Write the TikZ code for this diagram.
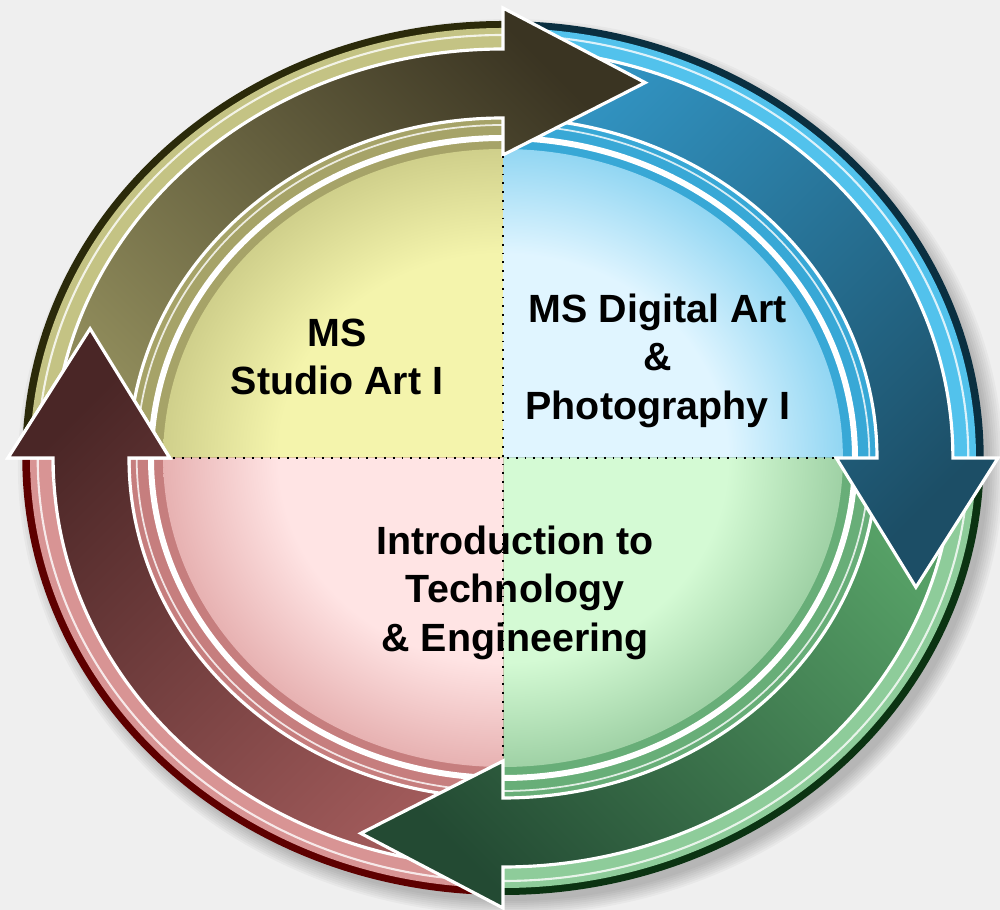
\documentclass[tikz,border=0pt]{standalone}
\usepackage{fontspec}
\setmainfont{Liberation Sans}
\usepackage{tikz}
\usetikzlibrary{calc}
\definecolor{bggray}{HTML}{EFEFEF}
% olive quadrant
\definecolor{rimo}{HTML}{2B2A0A}
\definecolor{ringo}{HTML}{C4C384}
\definecolor{bando}{HTML}{A6A368}
\definecolor{tailo}{HTML}{8E8A5A}
\definecolor{heado}{HTML}{3A3422}
\definecolor{dino}{HTML}{F4F4AC}
\definecolor{douto}{HTML}{A0A060}
% blue quadrant
\definecolor{rimb}{HTML}{0A2F40}
\definecolor{ringb}{HTML}{52C2EC}
\definecolor{bandb}{HTML}{38A8D6}
\definecolor{tailb}{HTML}{3192C0}
\definecolor{headb}{HTML}{1C4E66}
\definecolor{dinb}{HTML}{E0F5FF}
\definecolor{doutb}{HTML}{2CAEE2}
% green quadrant
\definecolor{rimg}{HTML}{0B3312}
\definecolor{ringg}{HTML}{8ECC9A}
\definecolor{bandg}{HTML}{68AE78}
\definecolor{tailg}{HTML}{56A066}
\definecolor{headg}{HTML}{234A33}
\definecolor{ding}{HTML}{D4FAD4}
\definecolor{doutg}{HTML}{5A9C68}
% red quadrant
\definecolor{rimr}{HTML}{5E0000}
\definecolor{ringr}{HTML}{D89494}
\definecolor{bandr}{HTML}{C67E7E}
\definecolor{tailr}{HTML}{A05A5A}
\definecolor{headr}{HTML}{4A2626}
\definecolor{dinr}{HTML}{FFE4E4}
\definecolor{doutr}{HTML}{C87070}

% disc shadings, light centre held before darkening to the rim
\pgfdeclareradialshading{disco}{\pgfpoint{0bp}{0bp}}{color(0bp)=(dino);
  color(11bp)=(dino); color(24bp)=(douto); color(50bp)=(douto)}
\pgfdeclareradialshading{discb}{\pgfpoint{0bp}{0bp}}{color(0bp)=(dinb);
  color(11bp)=(dinb); color(24bp)=(doutb); color(50bp)=(doutb)}
\pgfdeclareradialshading{discg}{\pgfpoint{0bp}{0bp}}{color(0bp)=(ding);
  color(11bp)=(ding); color(24bp)=(doutg); color(50bp)=(doutg)}
\pgfdeclareradialshading{discr}{\pgfpoint{0bp}{0bp}}{color(0bp)=(dinr);
  color(11bp)=(dinr); color(24bp)=(doutr); color(50bp)=(doutr)}

\tikzset{
  arrowbody/.style={draw=white,line width=0.9pt,line join=miter},
  quadtext/.style={font=\fontsize{11.2}{13.8}\selectfont\bfseries,
    align=center,anchor=north,inner sep=0pt},
}
% curved arrow: shaft starts at #1, head base at #1-90
\newcommand{\arrowpath}[1]{(#1:409) arc[start angle=#1,end angle=#1-90,radius=409]
  -- ({#1-90}:450) -- ({#1-109}:397) -- ({#1-90}:303) -- ({#1-90}:340)
  arc[start angle=#1-90,end angle=#1,radius=340] -- cycle}

\begin{document}
\begin{tikzpicture}[x=0.01cm,y=0.01cm]
  \fill[bggray] (-503,-452) rectangle (497,458);
  \useasboundingbox (-503,-452) rectangle (497,458);
  \begin{scope}[xscale=1.1]
    % soft shadow
    \foreach \k in {1,...,8}
      \fill[black,opacity=0.03] (7,-9) circle[radius=432+2*\k];
    % ring and disc quadrants
    \foreach \a/\q in {90/o,0/b,-90/g,180/r} {
      \fill[rim\q] (0,0) -- (\a:437) arc[start angle=\a,end angle=\a+90,radius=437] -- cycle;
      \fill[ring\q] (0,0) -- (\a:430) arc[start angle=\a,end angle=\a+90,radius=430] -- cycle;
      \draw[white,line width=0.6pt,opacity=0.8] (\a:423) arc[start angle=\a,end angle=\a+90,radius=423];
      \fill[band\q] (0,0) -- (\a:345) arc[start angle=\a,end angle=\a+90,radius=345] -- cycle;
      \draw[white,line width=0.5pt,opacity=0.8] (\a:333) arc[start angle=\a,end angle=\a+90,radius=333];
      \begin{scope}
        \clip (0,0) -- (\a:309) arc[start angle=\a,end angle=\a+90,radius=309] -- cycle;
        \shade[shading=disc\q] (0,0) circle[radius=464];
      \end{scope}
    }
    \draw[white,line width=1.7pt] (0,0) circle[radius=320];
    % arrows
    \foreach \s/\q/\ang in {-90/r/45,0/g/135,90/b/-135,180/o/-45}
      \shadedraw[arrowbody,top color=head\q,bottom color=tail\q,shading angle=\ang]
        \arrowpath{\s};
    % red head back on top of the olive tail
    \begin{scope}
      \clip (0,0) -- (152:560) -- (183:560) -- cycle;
      \shadedraw[arrowbody,top color=headr,bottom color=tailr,shading angle=45]
        \arrowpath{-90};
    \end{scope}
    % quadrant dividers
    \draw[black,line width=0.5pt,dotted] (-300,0) -- (303,0);
    \draw[black,line width=0.5pt,dotted] (0,302) -- (0,-302);
  \end{scope}
  % texts
  \node[quadtext] (studio) at (-166,140) {MS\\Studio Art I};
  \node[quadtext] (digital) at (155,165) {MS Digital Art\\\&\\Photography I};
  \node[quadtext] (intro) at (12,-67) {Introduction to\\Technology\\\& Engineering};
\end{tikzpicture}
\end{document}
